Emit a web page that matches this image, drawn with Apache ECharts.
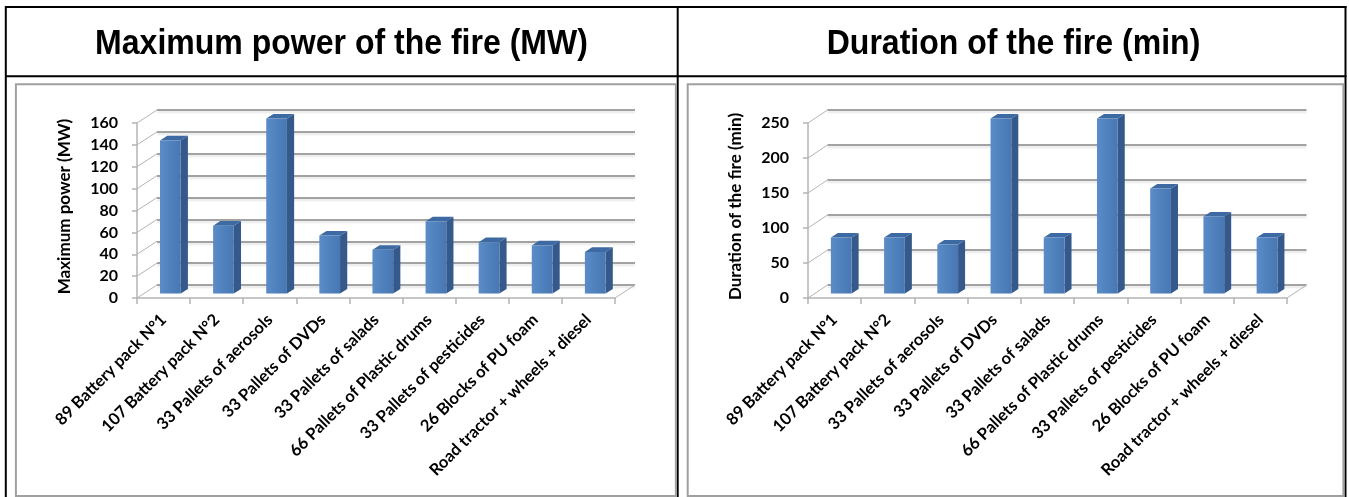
<!DOCTYPE html>
<html>
<head>
<meta charset="utf-8">
<script src="https://cdn.jsdelivr.net/npm/echarts@6/dist/echarts.min.js"></script>
<style>
  html, body { margin: 0; padding: 0; background: #fff; }
  #chart { width: 1349px; height: 497px; }
</style>
</head>
<body>
<div id="chart"></div>
<script>
// Fire tests: one category list, two measured quantities
const categories = [
  '89 Battery pack N°1',
  '107 Battery pack N°2',
  '33 Pallets of aerosols',
  '33 Pallets of DVDs',
  '33 Pallets of salads',
  '66 Pallets of Plastic drums',
  '33 Pallets of pesticides',
  '26 Blocks of PU foam',
  'Road tractor + wheels + diesel'
];
const powerMW = [140, 62, 160, 53, 40, 66, 47, 44, 38];
const durationMin = [80, 80, 70, 250, 80, 250, 150, 110, 80];

const powerScale = { min: 0, max: 160, interval: 20 };
const durationScale = { min: 0, max: 250, interval: 50 };

const panelTitles = ['Maximum power of the fire (MW)', 'Duration of the fire (min)'];
const axisNames = ['Maximum power (MW)', 'Duration of the fire (min)'];

// ---- styling ----
const FONT = 'Lato, "Open Sans", sans-serif';
const GRID_COLOR = '#a2a2a2';
const EDGE_COLOR = '#b4b4b4';
const FRONT = new echarts.graphic.LinearGradient(0, 0, 1, 0, [
  { offset: 0, color: '#5b8cc8' },
  { offset: 0.5, color: '#4f81bd' },
  { offset: 1, color: '#4878b3' }
]);
const SIDE = '#34598a';
const TOP = '#3d6aa3';

// front plane of each panel and the depth vector to its back wall
const panels = [
  { front: { left: 137, top: 123, width: 478, height: 175 }, depth: [20, -13], scale: powerScale, values: powerMW },
  { front: { left: 808, top: 123, width: 479, height: 175 }, depth: [19.5, -13], scale: durationScale, values: durationMin }
];

function tickValues(s) {
  const out = [];
  for (let v = s.min; v <= s.max + 1e-9; v += s.interval) out.push(v);
  return out;
}

// side wall diagonals + floor edges, drawn from the front value axis
function wallRenderer(depth) {
  return function (params, api) {
    const cs = params.coordSys;
    const v = api.value(1);
    const y = api.coord([0, v])[1];
    const children = [{
      type: 'line',
      shape: { x1: cs.x, y1: y, x2: cs.x + depth[0], y2: y + depth[1] },
      style: { stroke: EDGE_COLOR, lineWidth: 1 }
    }];
    if (v === 0) {
      children.push({
        type: 'line',
        shape: { x1: cs.x + cs.width, y1: y, x2: cs.x + cs.width + depth[0], y2: y + depth[1] },
        style: { stroke: EDGE_COLOR, lineWidth: 1 }
      });
    }
    return { type: 'group', children: children };
  };
}

// 3D column: front face, right side and top
function barRenderer(depth) {
  return function (params, api) {
    const i = api.value(0);
    const v = api.value(1);
    const base = api.coord([i, 0]);
    const top = api.coord([i, v]);
    const w = api.size([1, 0])[0] * 0.39;
    const ox = depth[0] * 0.34, oy = depth[1] * 0.34;
    const bx = depth[0] * 0.36, by = depth[1] * 0.36;
    const x = base[0] - w / 2 + ox;
    const y = top[1] + oy;
    const h = base[1] - top[1];
    return {
      type: 'group',
      children: [
        { type: 'polygon', shape: { points: [[x + w, y], [x + w + bx, y + by], [x + w + bx, y + h + by], [x + w, y + h]] }, style: { fill: SIDE } },
        { type: 'polygon', shape: { points: [[x, y], [x + bx, y + by], [x + w + bx, y + by], [x + w, y]] }, style: { fill: TOP } },
        { type: 'rect', shape: { x: x, y: y, width: w, height: h }, style: { fill: FRONT } }
      ]
    };
  };
}

const grids = [];
const xAxes = [];
const yAxes = [];
const series = [];

panels.forEach(function (p, k) {
  const fi = grids.length;
  grids.push(Object.assign({}, p.front));
  grids.push({ left: p.front.left + p.depth[0], top: p.front.top + p.depth[1], width: p.front.width, height: p.front.height });
  const bi = fi + 1;

  // front plane axes
  xAxes.push({
    type: 'category', gridIndex: fi, data: categories, boundaryGap: true,
    axisLine: { show: true, lineStyle: { color: EDGE_COLOR, width: 1.5 } },
    axisTick: { show: true, length: 6, lineStyle: { color: EDGE_COLOR, width: 1.5 } },
    axisLabel: {
      interval: 0, rotate: 45, margin: 19,
      fontFamily: FONT, fontWeight: 'bold', fontSize: 16.5, color: '#000'
    },
    splitLine: { show: false }
  });
  yAxes.push({
    type: 'value', gridIndex: fi, min: p.scale.min, max: p.scale.max, interval: p.scale.interval,
    name: axisNames[k], nameLocation: 'middle', nameRotate: 90, nameGap: 64,
    nameTextStyle: { fontFamily: FONT, fontWeight: 'bold', fontSize: 17, color: '#000', padding: [0, 0, 0, 8] },
    axisLine: { show: true, lineStyle: { color: EDGE_COLOR, width: 1.5 } },
    axisTick: { show: true, length: 5, lineStyle: { color: EDGE_COLOR, width: 1.5 } },
    axisLabel: { margin: 19, fontFamily: FONT, fontWeight: 'bold', fontSize: 16, color: '#000' },
    splitLine: { show: false }
  });

  // back wall axes: only the gridlines
  xAxes.push({ type: 'category', gridIndex: bi, data: categories, show: false });
  yAxes.push({
    type: 'value', gridIndex: bi, min: p.scale.min, max: p.scale.max, interval: p.scale.interval,
    axisLine: { show: false }, axisTick: { show: false }, axisLabel: { show: false },
    splitLine: {
      show: true,
      lineStyle: { color: GRID_COLOR, width: 2, shadowColor: 'rgba(0,0,0,0.10)', shadowOffsetY: 2, shadowBlur: 2 }
    }
  });

  series.push({
    type: 'custom', xAxisIndex: fi, yAxisIndex: fi, silent: true, clip: false, z: 1,
    renderItem: wallRenderer(p.depth),
    data: tickValues(p.scale).map(function (v) { return [0, v]; })
  });
  series.push({
    type: 'custom', xAxisIndex: fi, yAxisIndex: fi, silent: true, clip: false, z: 3,
    renderItem: barRenderer(p.depth),
    data: p.values.map(function (v, i) { return [i, v]; })
  });
});

// table frame and header cells
const BLACK = '#000';
const BOX = '#a0a0a0';
const TITLE_FONT = 'bold 35px "Liberation Sans", Arial, sans-serif';
const graphics = [
  { type: 'line', shape: { x1: 5, y1: 7, x2: 1346.5, y2: 7 }, style: { stroke: BLACK, lineWidth: 2 } },
  { type: 'line', shape: { x1: 5, y1: 76.3, x2: 1346.5, y2: 76.3 }, style: { stroke: BLACK, lineWidth: 2 } },
  { type: 'line', shape: { x1: 5.8, y1: 6, x2: 5.8, y2: 497 }, style: { stroke: BLACK, lineWidth: 2 } },
  { type: 'line', shape: { x1: 677.7, y1: 6, x2: 677.7, y2: 497 }, style: { stroke: BLACK, lineWidth: 2 } },
  { type: 'line', shape: { x1: 1345.5, y1: 6, x2: 1345.5, y2: 497 }, style: { stroke: BLACK, lineWidth: 2 } },
  { type: 'rect', shape: { x: 15.9, y: 84.3, width: 660, height: 411.7 }, style: { fill: 'none', stroke: BOX, lineWidth: 2 } },
  { type: 'rect', shape: { x: 687.7, y: 84.3, width: 655.7, height: 411.7 }, style: { fill: 'none', stroke: BOX, lineWidth: 2 } },
  { type: 'text', x: 341.5, y: 44, scaleX: 0.915, style: { text: panelTitles[0], font: TITLE_FONT, fill: BLACK, textAlign: 'center', textVerticalAlign: 'middle' } },
  { type: 'text', x: 1013.5, y: 44, scaleX: 0.915, style: { text: panelTitles[1], font: TITLE_FONT, fill: BLACK, textAlign: 'center', textVerticalAlign: 'middle' } }
];

const chart = echarts.init(document.getElementById('chart'), null, { renderer: 'canvas' });
chart.setOption({
  animation: false,
  backgroundColor: '#fff',
  grid: grids,
  xAxis: xAxes,
  yAxis: yAxes,
  series: series,
  graphic: graphics
});
</script>
</body>
</html>
